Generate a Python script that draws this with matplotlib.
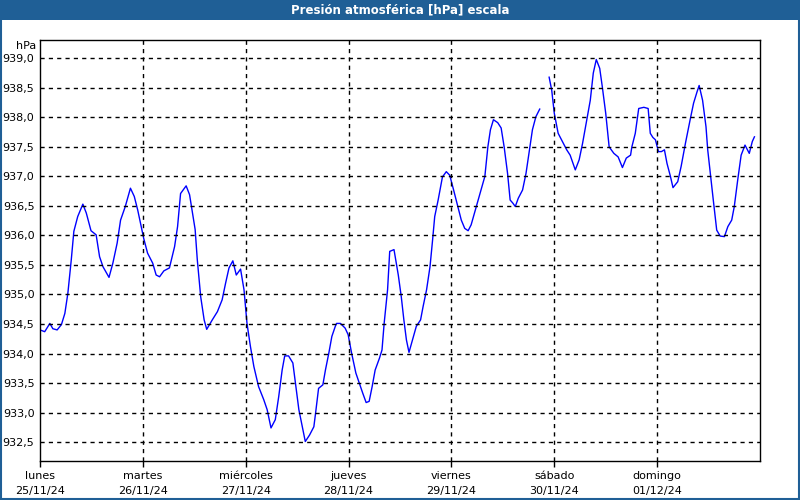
import numpy as np
import matplotlib
matplotlib.use('Agg')
import matplotlib.pyplot as plt
from matplotlib.patches import Rectangle

# hours since 25/11/24 00:00 and pressure in hPa
hours = [0.0, 1.1, 2.3, 3.0, 4.0, 5.0, 5.8, 6.5, 7.3, 7.9, 8.8, 10.0, 10.8, 11.9, 13.1, 13.9,
         14.7, 16.1, 17.0, 18.0, 18.8, 19.9, 21.1, 22.0, 22.8, 24.2, 25.1, 26.3, 27.1, 27.9,
         28.9, 30.2, 31.4, 32.1, 32.8, 34.1, 34.9, 36.2, 36.7, 37.5, 38.3, 38.9, 40.2, 41.4,
         42.5, 43.3, 44.1, 45.0, 45.8, 46.8, 47.6, 48.3, 49.1, 49.9, 51.0, 52.2, 53.0, 53.9,
         54.9, 55.7, 56.5, 57.1, 58.0, 59.0, 59.6, 60.4, 61.2, 61.9, 62.9, 63.9, 64.3, 65.0,
         66.0, 66.6, 67.4, 68.1, 68.9, 69.2, 70.1, 71.2, 71.9, 72.7, 73.7, 74.5, 75.3, 76.1,
         76.8, 77.5, 78.2, 79.2, 79.8, 80.3, 81.1, 81.6, 82.6, 83.0, 83.6, 84.3, 84.9, 85.5,
         86.1, 86.9, 87.8, 88.8, 89.4, 90.2, 91.0, 91.6, 92.1, 92.9, 93.9, 94.8, 95.6, 96.4,
         97.5, 98.3, 99.1, 99.9, 100.6, 101.8, 102.9, 103.8, 104.5, 105.1, 105.8, 106.8, 107.6,
         108.3, 109.1, 109.7, 110.3, 110.9, 111.6, 112.6, 113.4, 114.2, 114.9, 115.7, 116.6,
         117.7,
         118.8, 119.4, 120.0, 120.9, 121.9, 122.9, 123.7, 124.9, 125.8, 126.6, 127.6, 128.4,
         129.1, 129.8, 130.6, 131.2, 132.0, 132.8, 133.9, 134.9, 135.9, 136.8, 137.8, 138.1,
         138.9, 139.7, 140.9, 141.9, 142.4, 143.0, 143.6, 144.3, 145.0, 145.7, 146.3, 147.1,
         147.7, 148.8, 149.6, 150.6, 151.7, 152.5, 153.3, 153.8, 154.6, 155.4, 155.8, 156.4,
         157.1, 157.9, 158.7, 159.7, 160.5, 161.4, 162.0, 162.8, 163.6, 164.5, 165.5, 166.2,
         166.7]
pressure = [934.40, 934.37, 934.51, 934.42, 934.40, 934.49, 934.68, 935.02, 935.59, 936.07,
            936.32, 936.53, 936.38, 936.08, 936.01, 935.64, 935.47, 935.29, 935.53, 935.87,
            936.26, 936.49, 936.80, 936.66, 936.43, 935.95, 935.70, 935.53, 935.33, 935.30,
            935.40, 935.45, 935.81, 936.15, 936.71, 936.84, 936.69, 936.10, 935.59, 934.96,
            934.57, 934.41, 934.57, 934.71, 934.91, 935.19, 935.45, 935.57, 935.33, 935.43,
            935.08, 934.51, 934.12, 933.78, 933.44, 933.22, 933.05, 932.74, 932.88, 933.27,
            933.72, 933.96, 933.96, 933.84, 933.50, 933.05, 932.76, 932.51, 932.62, 932.76,
            932.99, 933.41, 933.47, 933.72, 934.01, 934.29, 934.46, 934.51, 934.51, 934.43,
            934.32, 934.01, 933.67, 933.50, 933.33, 933.17, 933.19, 933.44, 933.72, 933.92,
            934.06, 934.51, 935.08, 935.73, 935.76, 935.59, 935.33, 934.96, 934.57, 934.23,
            934.02, 934.23, 934.46, 934.57, 934.80, 935.08, 935.47, 935.92, 936.32, 936.60,
            936.99, 937.08, 937.02, 936.80, 936.49, 936.26, 936.12, 936.08, 936.18, 936.49,
            936.77, 937.00, 937.50, 937.79, 937.96, 937.91, 937.82, 937.50, 937.05, 936.60,
            936.55, 936.49, 936.63, 936.77, 937.05, 937.45, 937.79, 938.01, 938.14,
            np.nan,
            938.68, 938.46, 938.07, 937.73, 937.59, 937.45, 937.36, 937.11, 937.28, 937.56,
            937.96, 938.29, 938.75, 938.98, 938.83, 938.52, 938.07, 937.50, 937.39, 937.33,
            937.15, 937.31, 937.36, 937.50, 937.73, 938.15, 938.17, 938.15, 937.73, 937.66,
            937.62, 937.42, 937.42, 937.45, 937.22, 937.00, 936.81, 936.91, 937.17, 937.56,
            937.96, 938.24, 938.43, 938.54, 938.29, 937.84, 937.45, 937.05, 936.60, 936.09,
            935.99, 935.98, 936.15, 936.26, 936.49, 936.94, 937.36, 937.53, 937.39, 937.59,
            937.67]

day_ticks = [0, 24, 48, 72, 96, 120, 144]
day_labels = ['lunes\n25/11/24', 'martes\n26/11/24', 'miércoles\n27/11/24', 'jueves\n28/11/24',
              'viernes\n29/11/24', 'sábado\n30/11/24', 'domingo\n01/12/24']
y_ticks = [932.5, 933.0, 933.5, 934.0, 934.5, 935.0, 935.5, 936.0, 936.5, 937.0, 937.5,
           938.0, 938.5, 939.0]

fig = plt.figure(figsize=(8, 5), dpi=100)
ax = fig.add_axes([40/800, 39/500, 720/800, 421/500])

ax.plot(hours, pressure, color='#0000ff', lw=1)

ax.set_xlim(0, 168)
ax.set_ylim(932.18, 939.31)
ax.set_xticks(day_ticks)
ax.set_xticklabels(day_labels, fontsize=8, linespacing=1.6)
ax.set_yticks(y_ticks)
ax.set_yticklabels([f'{v:.1f}'.replace('.', ',') for v in y_ticks], fontsize=8)
ax.tick_params(axis='x', length=4, width=1, pad=3, colors='black')
ax.tick_params(axis='y', length=0, pad=4)

for v in y_ticks:
    ax.axhline(v, color='black', lw=1, ls=(0, (3, 3)))
for d in day_ticks[1:]:
    ax.axvline(d, color='black', lw=1, ls=(0, (3, 3)))
for s in ax.spines.values():
    s.set_color('black')
    s.set_linewidth(1)

fig.text(36/800, 1 - 46/500, 'hPa', ha='right', va='center', fontsize=8)

# title bar and outer frame
fig.patches.append(Rectangle((0, 1 - 20/500), 1, 20/500, transform=fig.transFigure,
                             facecolor='#1f5f96', edgecolor='none', zorder=0))
fig.text(0.5, 1 - 10/500, 'Presión atmosférica [hPa] escala', ha='center', va='center',
         color='white', fontsize=8.5, fontweight='bold')
fig.patches.append(Rectangle((0.001, 0.002), 0.998, 0.997, transform=fig.transFigure,
                             facecolor='none', edgecolor='#1f5f96', lw=1.5))

fig.savefig('out.png', dpi=100)
